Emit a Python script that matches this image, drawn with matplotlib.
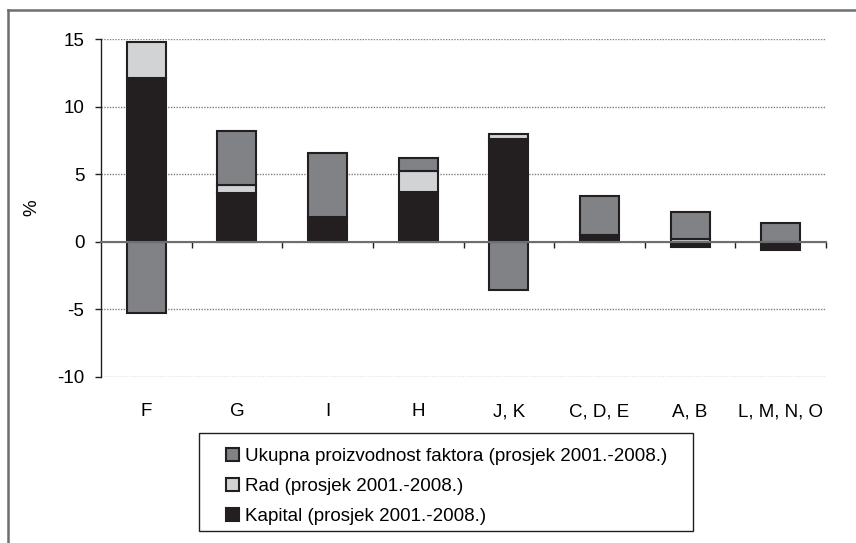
import numpy as np
import matplotlib.pyplot as plt
from matplotlib.lines import Line2D
from matplotlib.patches import Rectangle

plt.rcParams['font.family'] = ['Liberation Sans', 'DejaVu Sans']
plt.rcParams['font.size'] = 13.5
plt.rcParams['axes.unicode_minus'] = False

# data (%)
categories = ['F', 'G', 'I', 'H', 'J, K', 'C, D, E', 'A, B', 'L, M, N, O']
kapital = [12.1, 3.6, 1.8, 3.7, 7.6, 0.5, -0.4, -0.6]
rad = [2.7, 0.6, 0.0, 1.5, 0.4, 0.0, 0.2, 0.0]
tfp = [-5.3, 4.0, 4.8, 1.0, -3.6, 2.9, 2.0, 1.4]

series = [
    ('Kapital (prosjek 2001.-2008.)', kapital, '#231f20'),
    ('Rad (prosjek 2001.-2008.)', rad, '#d1d3d4'),
    ('Ukupna proizvodnost faktora (prosjek 2001.-2008.)', tfp, '#808285'),
]

W, H = 856, 543
fig = plt.figure(figsize=(W / 100, H / 100), dpi=100)
ax = fig.add_axes([101 / W, 1 - 377 / H, (826 - 101) / W, (377 - 39) / H])

x = np.arange(len(categories))
pos_bottom = np.zeros(len(categories))
neg_bottom = np.zeros(len(categories))
handles = {}
for name, vals, col in series:
    vals = np.array(vals)
    bottom = np.where(vals >= 0, pos_bottom, neg_bottom)
    bars = ax.bar(x, vals, 0.43, bottom=bottom, color=col,
                  edgecolor='#231f20', linewidth=1.5, zorder=3)
    handles[name] = bars
    pos_bottom += np.where(vals >= 0, vals, 0)
    neg_bottom += np.where(vals < 0, vals, 0)

ax.set_xlim(-0.5, len(categories) - 0.5)
ax.set_ylim(-10, 15)
ax.set_yticks([-10, -5, 0, 5, 10, 15])
ax.set_ylabel('%')
ax.yaxis.set_label_coords((40 - 101) / 725, 0.5)

ax.yaxis.grid(True, linestyle=(0, (1, 1)), color='#808080', linewidth=1.0)
ax.set_axisbelow(True)

for s in ['top', 'right']:
    ax.spines[s].set_visible(False)
ax.spines['left'].set_color('#231f20')
ax.spines['left'].set_linewidth(1.0)
ax.spines['bottom'].set_position(('data', 0))
ax.spines['bottom'].set_color('#6d6e71')
ax.spines['bottom'].set_linewidth(1.5)
ax.spines['bottom'].set_zorder(4)

ax.set_xticks(x + 0.5)
ax.set_xticklabels([])
ax.tick_params(axis='x', direction='out', length=4, width=1.0, color='#231f20')
ax.tick_params(axis='y', direction='out', length=4, width=1.0, color='#231f20', pad=8)

sec = ax.secondary_xaxis('bottom')
sec.set_xticks(x, categories)
sec.tick_params(length=0, pad=19)
sec.spines['bottom'].set_visible(False)

# legend entries without frame; frame drawn separately to match the source box
order = [series[2][0], series[1][0], series[0][0]]
leg = fig.legend([handles[n] for n in order], order,
                 loc='upper left', bbox_to_anchor=(226 / W, 1 - 448 / H),
                 frameon=False, handlelength=0.7, handleheight=0.7, handletextpad=0.3,
                 labelspacing=0.68, borderpad=0, borderaxespad=0)
fig.add_artist(Rectangle((199 / W, 1 - 531 / H), (693 - 199) / W, (531 - 433) / H,
                         transform=fig.transFigure, fill=False,
                         edgecolor='#231f20', linewidth=1.0))

# outer frame (top and left edges only, as in the cropped source)
fx, fy = 8 / W, 1 - 10 / H
fig.add_artist(Line2D([fx, fx], [0, fy], color='#6d6e71', linewidth=1.8))
fig.add_artist(Line2D([fx, 1], [fy, fy], color='#6d6e71', linewidth=1.8))

fig.savefig('out.png', dpi=100)
